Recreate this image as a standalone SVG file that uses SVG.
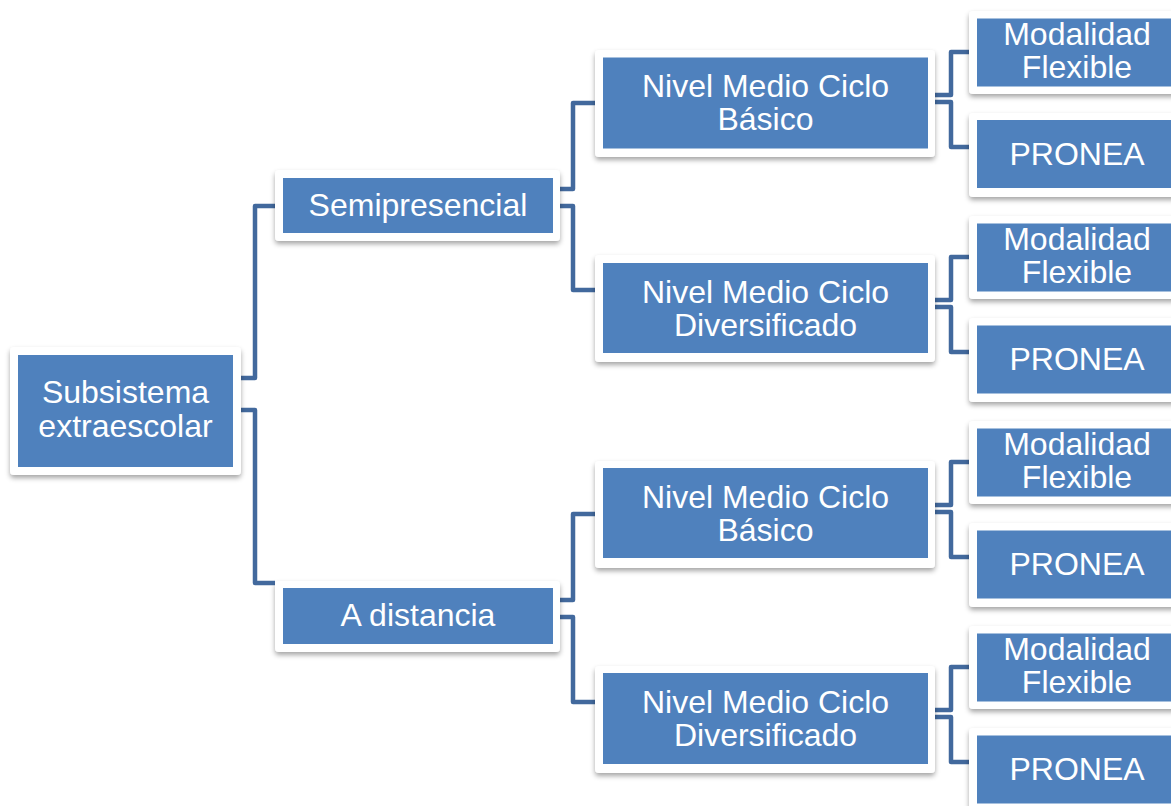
<svg xmlns="http://www.w3.org/2000/svg" width="1171" height="806" viewBox="0 0 1171 806">
<defs>
<filter id="sh" x="-10%" y="-20%" width="120%" height="150%">
<feDropShadow dx="0" dy="3" stdDeviation="2.5" flood-color="#000" flood-opacity="0.35"/>
</filter>
<style>
.frame{fill:#ffffff;filter:url(#sh)}
.box{fill:#4f81bd}
.t{fill:#ffffff;font-family:"Liberation Sans",Arial,sans-serif;font-size:32px;text-anchor:middle}
.c{fill:none;stroke:#42699d;stroke-width:4.5;stroke-linejoin:round}
</style>
</defs>
<rect width="1171" height="806" fill="#ffffff"/>
<g id="connectors">
<path class="c" d="M241,378 H255 V206 H275"/>
<path class="c" d="M241,410 H255 V583 H275"/>
<path class="c" d="M560,189 H573 V103 H595"/>
<path class="c" d="M560,206 H573 V290 H595"/>
<path class="c" d="M560,600 H573 V514 H595"/>
<path class="c" d="M560,617 H573 V702 H595"/>
<path class="c" d="M935,95 H951 V52 H969"/>
<path class="c" d="M935,102 H951 V147 H969"/>
<path class="c" d="M935,300 H951 V257 H969"/>
<path class="c" d="M935,307 H951 V352 H969"/>
<path class="c" d="M935,505 H951 V462 H969"/>
<path class="c" d="M935,512 H951 V557 H969"/>
<path class="c" d="M935,710 H951 V667 H969"/>
<path class="c" d="M935,717 H951 V762 H969"/>
</g>
<g id="root">
<rect class="frame" x="10" y="347" width="231" height="128" rx="4"/>
<rect class="box" x="18" y="355" width="215" height="112"/>
<text class="t" x="125.5" y="403">Subsistema</text>
<text class="t" x="125.5" y="437">extraescolar</text>
</g>
<g id="semipresencial">
<rect class="frame" x="275" y="170" width="285" height="71" rx="4"/>
<rect class="box" x="283" y="178" width="270" height="55"/>
<text class="t" x="418" y="216">Semipresencial</text>
</g>
<g id="adistancia">
<rect class="frame" x="275" y="581" width="285" height="71" rx="4"/>
<rect class="box" x="283" y="588" width="270" height="56"/>
<text class="t" x="418" y="626">A distancia</text>
</g>
<g id="nivel1">
<rect class="frame" x="595" y="50" width="340" height="107" rx="4"/>
<rect class="box" x="603" y="57.5" width="325" height="91"/>
<text class="t" x="765.5" y="97">Nivel Medio Ciclo</text>
<text class="t" x="765.5" y="130">Básico</text>
</g>
<g id="nivel2">
<rect class="frame" x="595" y="255" width="340" height="107" rx="4"/>
<rect class="box" x="603" y="263" width="325" height="90"/>
<text class="t" x="765.5" y="303">Nivel Medio Ciclo</text>
<text class="t" x="765.5" y="336">Diversificado</text>
</g>
<g id="nivel3">
<rect class="frame" x="595" y="461" width="340" height="107" rx="4"/>
<rect class="box" x="603" y="468" width="325" height="90"/>
<text class="t" x="765.5" y="508">Nivel Medio Ciclo</text>
<text class="t" x="765.5" y="541">Básico</text>
</g>
<g id="nivel4">
<rect class="frame" x="595" y="666" width="340" height="107" rx="4"/>
<rect class="box" x="603" y="673" width="325" height="91"/>
<text class="t" x="765.5" y="713">Nivel Medio Ciclo</text>
<text class="t" x="765.5" y="746">Diversificado</text>
</g>
<g id="modalidad1">
<rect class="frame" x="969" y="11" width="220" height="83" rx="4"/>
<rect class="box" x="977" y="18.5" width="200" height="68"/>
<text class="t" x="1077" y="45">Modalidad</text>
<text class="t" x="1077" y="78">Flexible</text>
</g>
<g id="pronea1">
<rect class="frame" x="969" y="113" width="220" height="84" rx="4"/>
<rect class="box" x="977" y="120" width="200" height="68"/>
<text class="t" x="1077" y="165">PRONEA</text>
</g>
<g id="modalidad2">
<rect class="frame" x="969" y="216" width="220" height="83" rx="4"/>
<rect class="box" x="977" y="223.5" width="200" height="68"/>
<text class="t" x="1077" y="250">Modalidad</text>
<text class="t" x="1077" y="283">Flexible</text>
</g>
<g id="pronea2">
<rect class="frame" x="969" y="318" width="220" height="84" rx="4"/>
<rect class="box" x="977" y="325.5" width="200" height="68"/>
<text class="t" x="1077" y="370">PRONEA</text>
</g>
<g id="modalidad3">
<rect class="frame" x="969" y="421" width="220" height="83" rx="4"/>
<rect class="box" x="977" y="428.5" width="200" height="68"/>
<text class="t" x="1077" y="455">Modalidad</text>
<text class="t" x="1077" y="488">Flexible</text>
</g>
<g id="pronea3">
<rect class="frame" x="969" y="523" width="220" height="84" rx="4"/>
<rect class="box" x="977" y="530.5" width="200" height="68"/>
<text class="t" x="1077" y="575">PRONEA</text>
</g>
<g id="modalidad4">
<rect class="frame" x="969" y="626" width="220" height="83" rx="4"/>
<rect class="box" x="977" y="633.5" width="200" height="68"/>
<text class="t" x="1077" y="660">Modalidad</text>
<text class="t" x="1077" y="693">Flexible</text>
</g>
<g id="pronea4">
<rect class="frame" x="969" y="728" width="220" height="84" rx="4"/>
<rect class="box" x="977" y="735.5" width="200" height="68"/>
<text class="t" x="1077" y="780">PRONEA</text>
</g>
</svg>
